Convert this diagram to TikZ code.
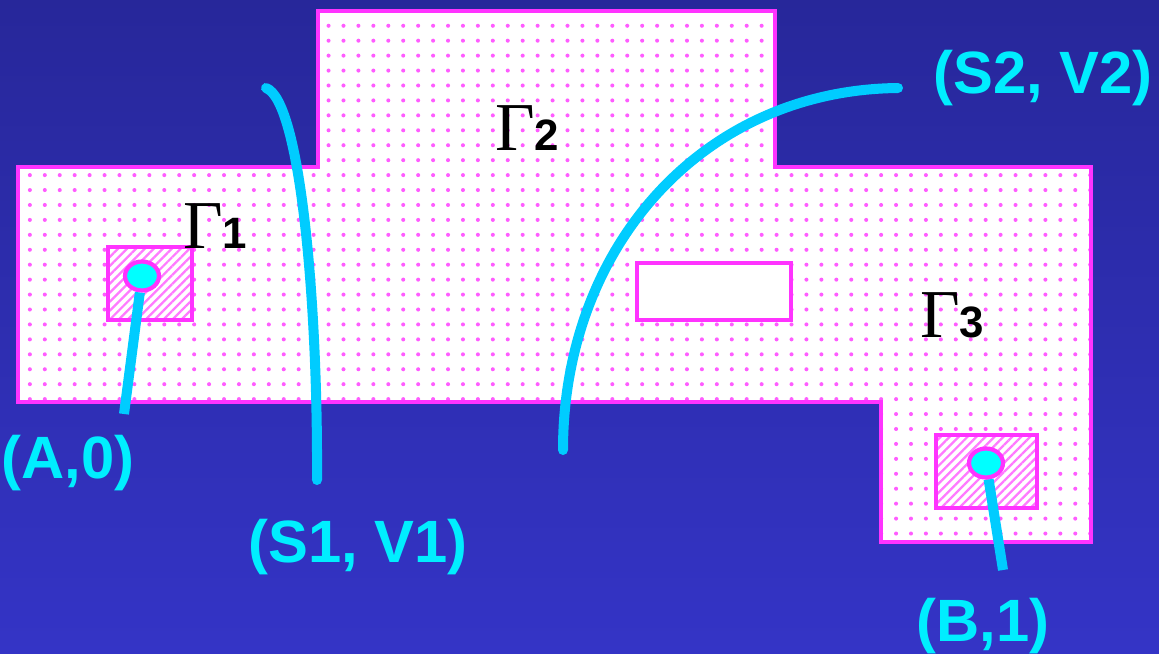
\documentclass[tikz,border=0pt]{standalone}
\usepackage{fontspec}
\usepackage{tikz}
\usetikzlibrary{patterns.meta,shapes.geometric}
\newfontfamily\lblfont{Liberation Sans}
\newfontfamily\gamfont{Liberation Serif}
\definecolor{bgtop}{HTML}{27279A}
\definecolor{bgbot}{HTML}{3434C6}
\definecolor{edgepink}{HTML}{FF33FF}
\definecolor{curvecyan}{HTML}{00CCFF}
\definecolor{textcyan}{HTML}{00EEFF}
\definecolor{pincyan}{HTML}{00FFFF}
\tikzset{
  border/.style={draw=edgepink, line width=2.3pt},
  dotfill/.style={fill=white, postaction={pattern={Dots[distance=8.5pt, radius=1.15pt]}, pattern color=edgepink!80}},
  hatchfill/.style={fill=white, postaction={pattern={Lines[angle=45, distance=3.6pt, line width=1.3pt]}, pattern color=edgepink!65}},
  curve/.style={draw=curvecyan, line width=5.7pt, line cap=round},
  pin/.style={ellipse, fill=pincyan, draw=edgepink, line width=2.4pt, minimum width=0.68cm, minimum height=0.58cm, inner sep=0pt},
  pairlabel/.style={text=textcyan, font=\lblfont\bfseries\fontsize{34}{40}\selectfont, inner sep=0pt},
  gamlabel/.style={anchor=base west, inner sep=0pt, text=black}
}
\newcommand{\gam}[1]{{\gamfont\fontsize{39}{42}\selectfont Γ}{\lblfont\bfseries\fontsize{25}{28}\selectfont #1}}

\begin{document}
\begin{tikzpicture}[x=0.02cm, y=-0.02cm]
  \shade[top color=bgtop, bottom color=bgbot] (0,0) rectangle (1159,653);
  \useasboundingbox (0,0) rectangle (1159,653);

  % the domain
  \path[dotfill] (18,167) -- (318,167) -- (318,11) -- (775,11) -- (775,167) -- (1091,167)
    -- (1091,542) -- (881,542) -- (881,402) -- (18,402) -- cycle;
  \path[hatchfill] (108,247) rectangle (192,320);
  \path[hatchfill] (936,435) rectangle (1037,508);
  \fill[white] (637,263) rectangle (791,320);
  \draw[border, line join=miter] (18,167) -- (318,167) -- (318,11) -- (775,11) -- (775,167) -- (1091,167)
    -- (1091,542) -- (881,542) -- (881,402) -- (18,402) -- cycle;
  \draw[border] (108,247) rectangle (192,320);
  \draw[border] (936,435) rectangle (1037,508);
  \draw[border] (637,263) rectangle (791,320);

  \node[gamlabel] (g1) at (183,248) {\gam{1}};
  \node[gamlabel] (g2) at (495,150) {\gam{2}};
  \node[gamlabel] (g3) at (920,337) {\gam{3}};

  % curves and points
  \coordinate (s1top) at (266,88);
  \coordinate (s1end) at (317,480);
  \coordinate (s2top) at (898,88);
  \coordinate (s2end) at (563,450);
  \coordinate (aend) at (124,414);
  \coordinate (bend) at (1003,570);
  \draw[curve] (s1top) .. controls (300,100) and (318,300) .. (s1end);
  \draw[curve] (s2top) .. controls (700,90) and (563,250) .. (s2end);
  \node[pin] (pa) at (142,276) {};
  \node[pin] (pb) at (986,463) {};
  \draw[curve, line cap=butt] (pa) -- (aend);
  \draw[curve, line cap=butt] (pb) -- (bend);

  \node[pairlabel] (la) at (68,463) {(A,0)};
  \node[pairlabel] (ls1) at (358,547) {(S1, V1)};
  \node[pairlabel] (ls2) at (1043,78) {(S2, V2)};
  \node[pairlabel] (lb) at (983,626) {(B,1)};
\end{tikzpicture}
\end{document}
